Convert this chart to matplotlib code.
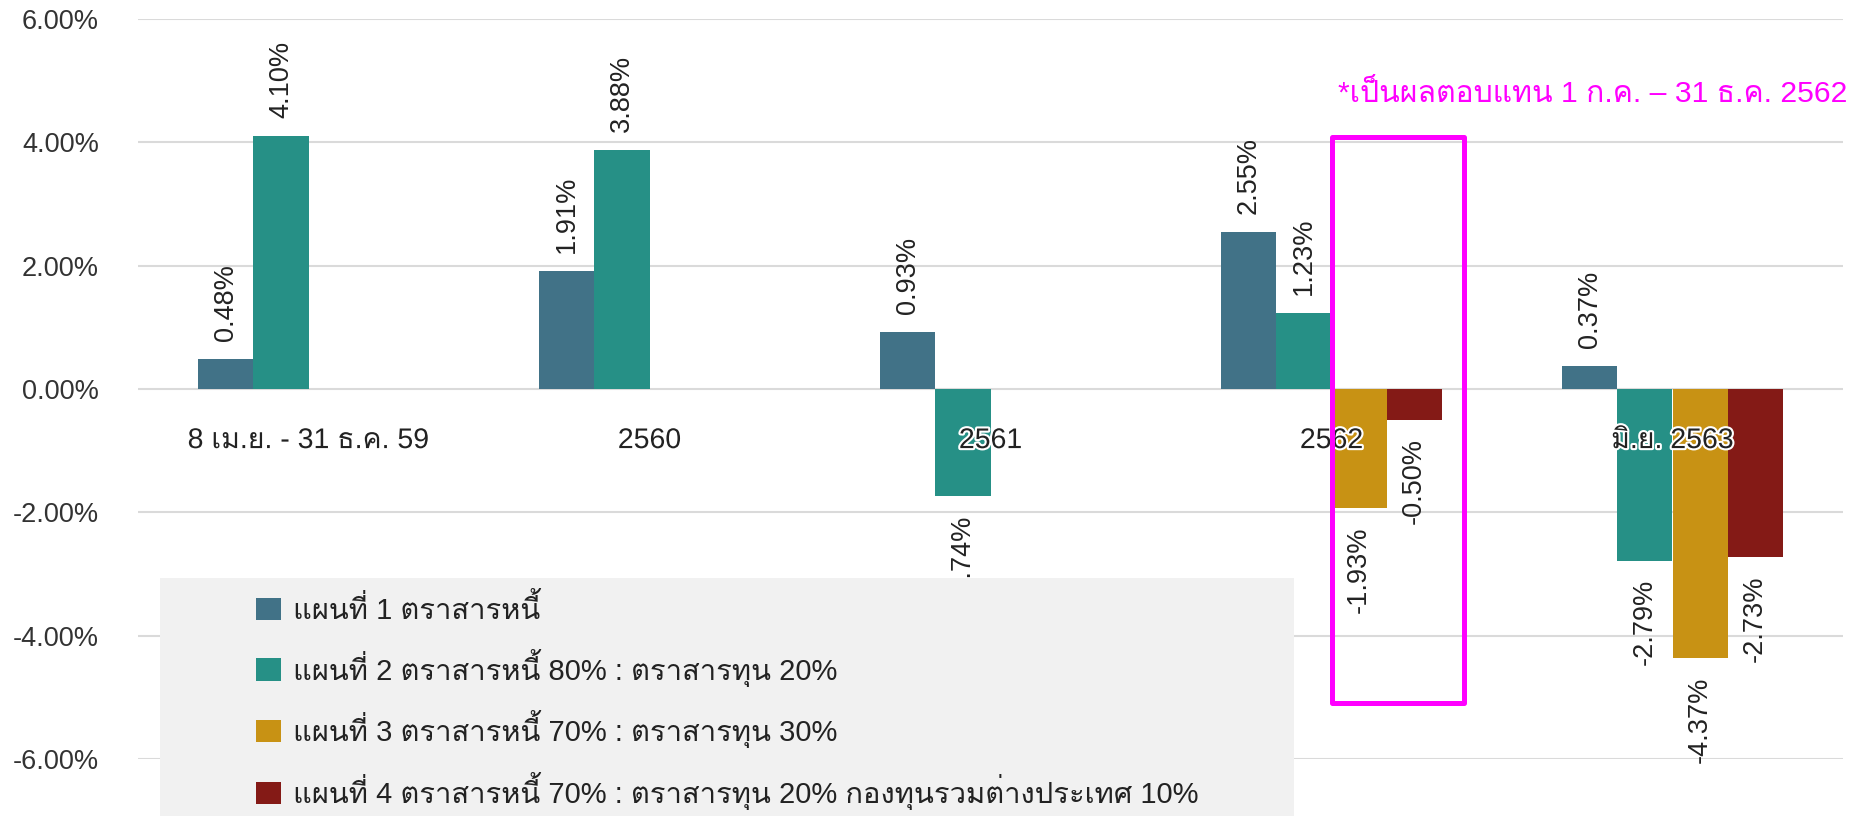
import numpy as np
import matplotlib
matplotlib.use("Agg")
import matplotlib.pyplot as plt
from matplotlib import font_manager as fm
from matplotlib.patches import Rectangle, Patch
import matplotlib.patheffects as pe

# ---------------- data ----------------
categories = ["8 เม.ย. - 31 ธ.ค. 59", "2560", "2561", "2562", "มิ.ย. 2563"]
series_names = [
    "แผนที่ 1 ตราสารหนี้",
    "แผนที่ 2 ตราสารหนี้ 80% : ตราสารทุน 20%",
    "แผนที่ 3 ตราสารหนี้ 70% : ตราสารทุน 30%",
    "แผนที่ 4 ตราสารหนี้ 70% : ตราสารทุน 20% กองทุนรวมต่างประเทศ 10%",
]
plan1 = [0.48, 1.91, 0.93, 2.55, 0.37]
plan2 = [4.10, 3.88, -1.74, 1.23, -2.79]
plan3 = [np.nan, np.nan, np.nan, -1.93, -4.37]
plan4 = [np.nan, np.nan, np.nan, -0.50, -2.73]
series_colors = ["#417287", "#269086", "#C89214", "#841A16"]
yticks = [-6, -4, -2, 0, 2, 4, 6]
note_text = "*เป็นผลตอบแทน 1 ก.ค. – 31 ธ.ค. 2562"

# ---------------- fonts ----------------
installed = {f.name for f in fm.fontManager.ttflist}
thai_font = next((f for f in ["Loma", "Noto Sans Thai Looped", "Sarabun", "Noto Sans Thai"]
                  if f in installed), None)
families = ["Liberation Sans"] + ([thai_font] if thai_font else []) + ["DejaVu Sans"]
plt.rcParams["font.family"] = families

# ---------------- figure ----------------
W, H = 1862, 816
fig = plt.figure(figsize=(W / 100, H / 100), dpi=100)
ax = fig.add_axes([138 / W, 1 - 759 / H, (1843 - 138) / W, (759 - 19) / H])
ax.set_xlim(-0.5, len(categories) - 0.5)
ax.set_ylim(-6, 6)

x = np.arange(len(categories))
w = 0.1614
all_series = [plan1, plan2, plan3, plan4]
for i, (vals, col) in enumerate(zip(all_series, series_colors)):
    xs = x + (i - 1.5) * w
    ax.bar(xs, vals, w, color=col, linewidth=0, zorder=2)
    for xi, v in zip(xs, vals):
        if np.isnan(v):
            continue
        ax.annotate(f"{v:.2f}%", xy=(xi, v), xytext=(0, 13 if v > 0 else -13),
                    textcoords="offset points", rotation=90, ha="center",
                    va="bottom" if v > 0 else "top", fontsize=19.5, color="#222222",
                    zorder=3)

for xi, cat in zip(x, categories):
    ax.annotate(cat, xy=(xi, 0), xytext=(0, -37.5), textcoords="offset points",
                ha="center", va="center", fontsize=20.5, color="#222222", zorder=4,
                path_effects=[pe.withStroke(linewidth=3, foreground="white")])

ax.set_yticks(yticks)
ax.set_yticklabels([f"{t:.2f}%" for t in yticks])
ax.set_xticks([])
ax.tick_params(axis="y", length=0, pad=28, labelsize=19.5, labelcolor="#333333")
for s in ax.spines.values():
    s.set_visible(False)
ax.grid(axis="y", color="#dadada", linewidth=1.5, zorder=0)
ax.set_axisbelow(True)

# highlight box
ax.add_patch(Rectangle((3.0, -5.09), 0.39, 9.18, fill=False, edgecolor="#FF00FF",
                       linewidth=3.6, zorder=5, clip_on=False, joinstyle="round"))
fig.text(1338 / W, 1 - 94 / H, note_text, color="#FF00FF", fontsize=21.7,
         ha="left", va="center")

# legend background + legend
fig.add_artist(Rectangle((160 / W, 0), (1294 - 160) / W, (816 - 578) / H,
                         transform=fig.transFigure, facecolor="#f1f1f1",
                         edgecolor="none", zorder=4))
handles = [Patch(facecolor=c, edgecolor="none") for c in series_colors]
leg = fig.legend(handles, series_names, loc="upper left",
                 bbox_to_anchor=(256 / W, 1 - 594 / H), frameon=False, borderpad=0,
                 borderaxespad=0, handlelength=0.857, handleheight=0.786,
                 handletextpad=0.41, labelspacing=0.81, fontsize=21)
leg.set_zorder(6)
for t in leg.get_texts():
    t.set_color("#222222")

fig.savefig("out.png", dpi=100)
